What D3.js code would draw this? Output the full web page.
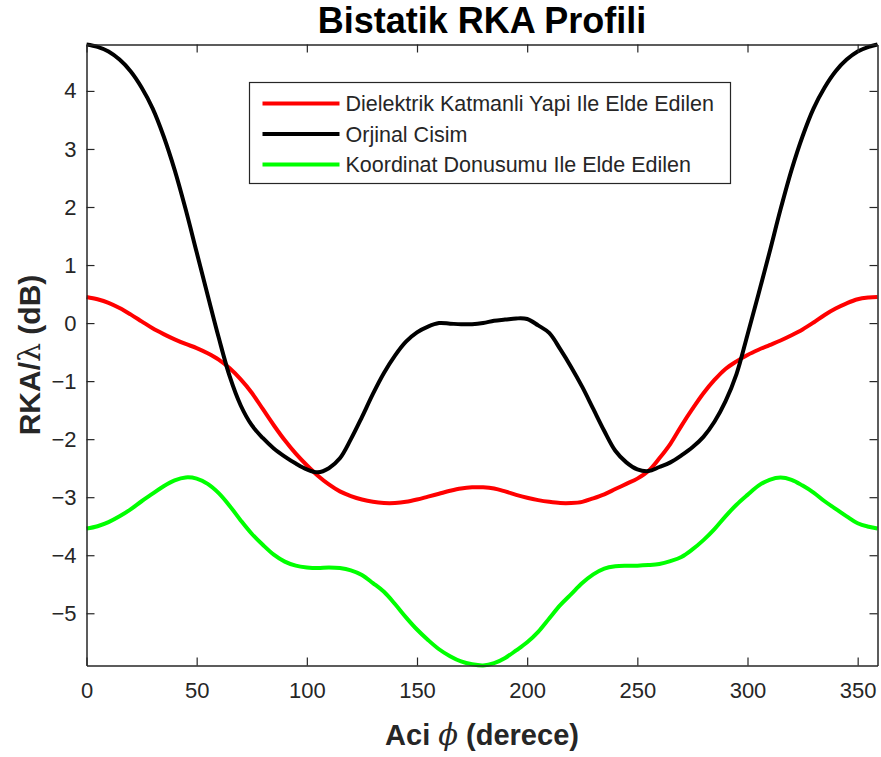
<!DOCTYPE html>
<html>
<head>
<meta charset="utf-8">
<script src="https://cdn.jsdelivr.net/npm/d3@7"></script>
<style>
  body { margin: 0; background: #fff; }
  svg { font-family: "Liberation Sans", Arial, sans-serif; }
</style>
</head>
<body>
<svg width="881" height="757"></svg>
<script>
// angles (derece)
var angles = [0,5,10,15,20,25,30,35,40,45,50,55,60,65,70,75,80,85,90,95,100,105,110,115,120,125,130,135,140,145,150,155,160,165,170,175,
  180,185,190,195,200,205,210,215,220,225,230,235,240,245,250,255,260,265,270,275,280,285,290,295,300,305,310,315,320,325,330,335,340,345,350,355,359];

var dielektrik = [0.45,0.41,0.35,0.26,0.15,0.03,-0.09,-0.19,-0.28,-0.36,-0.43,-0.52,-0.63,-0.78,-0.97,-1.20,-1.48,-1.76,-2.02,-2.25,-2.45,-2.63,-2.78,-2.90,-2.98,-3.04,-3.08,-3.10,-3.10,-3.08,-3.04,-2.99,-2.94,-2.89,-2.85,-2.83,
  -2.83,-2.85,-2.90,-2.96,-3.01,-3.05,-3.08,-3.10,-3.10,-3.08,-3.02,-2.95,-2.86,-2.77,-2.68,-2.55,-2.33,-2.08,-1.77,-1.48,-1.21,-0.98,-0.79,-0.66,-0.55,-0.46,-0.38,-0.30,-0.21,-0.11,0.01,0.14,0.25,0.34,0.41,0.44,0.45];

var orjinal = [4.80,4.76,4.68,4.54,4.34,4.06,3.70,3.22,2.64,1.96,1.22,0.48,-0.25,-0.92,-1.42,-1.76,-1.98,-2.16,-2.30,-2.42,-2.52,-2.57,-2.50,-2.33,-2.00,-1.62,-1.22,-0.86,-0.56,-0.32,-0.16,-0.06,0.00,-0.01,-0.02,-0.02,
  0.00,0.04,0.06,0.08,0.07,-0.04,-0.17,-0.45,-0.76,-1.10,-1.48,-1.86,-2.20,-2.40,-2.52,-2.55,-2.48,-2.40,-2.28,-2.14,-1.96,-1.70,-1.35,-0.88,-0.20,0.50,1.22,1.96,2.64,3.22,3.70,4.06,4.34,4.54,4.68,4.76,4.80];

var koordinat = [-3.54,-3.50,-3.43,-3.33,-3.21,-3.07,-2.94,-2.81,-2.71,-2.66,-2.68,-2.77,-2.93,-3.15,-3.40,-3.63,-3.82,-3.99,-4.11,-4.18,-4.21,-4.22,-4.21,-4.22,-4.26,-4.34,-4.48,-4.63,-4.84,-5.07,-5.28,-5.46,-5.62,-5.74,-5.83,-5.88,
  -5.90,-5.86,-5.77,-5.64,-5.50,-5.32,-5.09,-4.86,-4.67,-4.48,-4.33,-4.23,-4.19,-4.18,-4.18,-4.17,-4.15,-4.10,-4.03,-3.90,-3.74,-3.55,-3.33,-3.13,-2.96,-2.80,-2.70,-2.66,-2.70,-2.80,-2.92,-3.07,-3.20,-3.33,-3.45,-3.51,-3.54];

var seriesNames = ["Dielektrik Katmanli Yapi Ile Elde Edilen", "Orjinal Cisim", "Koordinat Donusumu Ile Elde Edilen"];
var seriesColors = ["#ff0000", "#000000", "#00ff00"];
var xTicks = [0,50,100,150,200,250,300,350];
var yTicks = [-5,-4,-3,-2,-1,0,1,2,3,4];

var svg = d3.select("svg"),
    margin = {top: 44.5, right: 3.5, bottom: 91.5, left: 86.5},
    width = +svg.attr("width") - margin.left - margin.right,
    height = +svg.attr("height") - margin.top - margin.bottom;

var allSeries = [dielektrik, orjinal, koordinat];
var yMin = d3.min(allSeries, function(s) { return d3.min(s); }),
    yMax = d3.max(allSeries, function(s) { return d3.max(s); });

var x = d3.scaleLinear().domain([0, 359]).range([0, width]),
    y = d3.scaleLinear().domain([yMin, yMax]).range([height, 0]);

var g = svg.append("g")
    .attr("transform", "translate(" + margin.left + "," + margin.top + ")");

var axisColor = "#262626";

// lines
var line = d3.line()
    .x(function(d) { return x(d[0]); })
    .y(function(d) { return y(d[1]); })
    .curve(d3.curveCatmullRom.alpha(0.5));

g.append("defs").append("clipPath").attr("id", "clip")
  .append("rect").attr("x", -3).attr("y", -3).attr("width", width + 6).attr("height", height + 6);

allSeries.forEach(function(s, i) {
  g.append("path")
      .datum(angles.map(function(a, j) { return [a, s[j]]; }))
      .attr("clip-path", "url(#clip)")
      .attr("fill", "none")
      .attr("stroke", seriesColors[i])
      .attr("stroke-width", 4)
      .attr("stroke-linejoin", "round")
      .attr("d", line);
});

// axes (box with inward ticks)
function styleAxis(sel) {
  sel.selectAll("path").attr("stroke", axisColor).attr("stroke-width", 1.5);
  sel.selectAll("line").attr("stroke", axisColor).attr("stroke-width", 1.2);
  sel.selectAll("text").attr("fill", axisColor).style("font-size", "22px");
}

g.append("g")
    .attr("transform", "translate(0," + height + ")")
    .call(d3.axisBottom(x).tickValues(xTicks).tickSizeInner(-8).tickSizeOuter(0).tickPadding(17))
    .call(styleAxis);

g.append("g")
    .call(d3.axisTop(x).tickValues(xTicks).tickSizeInner(-8).tickSizeOuter(0).tickFormat(""))
    .call(styleAxis);

g.append("g")
    .call(d3.axisLeft(y).tickValues(yTicks).tickSizeInner(-8).tickSizeOuter(0).tickPadding(10))
    .call(styleAxis);

g.append("g")
    .attr("transform", "translate(" + width + ",0)")
    .call(d3.axisRight(y).tickValues(yTicks).tickSizeInner(-8).tickSizeOuter(0).tickFormat(""))
    .call(styleAxis);

// legend
var legend = svg.append("g").attr("transform", "translate(249.5,82.5)");
legend.append("rect")
    .attr("width", 481)
    .attr("height", 101)
    .attr("fill", "#fff")
    .attr("stroke", axisColor)
    .attr("stroke-width", 1.2);

seriesNames.forEach(function(name, i) {
  var yy = 21 + i * 30.5;
  legend.append("line")
      .attr("x1", 13).attr("x2", 90)
      .attr("y1", yy).attr("y2", yy)
      .attr("stroke", seriesColors[i])
      .attr("stroke-width", 4);
  legend.append("text")
      .attr("x", 96)
      .attr("y", yy)
      .attr("dy", "0.35em")
      .attr("fill", axisColor)
      .style("font-size", "21.5px")
      .text(name);
});

// title and labels
svg.append("text")
    .attr("x", margin.left + width / 2)
    .attr("y", 33)
    .attr("text-anchor", "middle")
    .attr("fill", "#000")
    .style("font-size", "36px")
    .style("font-weight", "bold")
    .text("Bistatik RKA Profili");

var xl = svg.append("text")
    .attr("x", margin.left + width / 2)
    .attr("y", 745)
    .attr("text-anchor", "middle")
    .attr("fill", axisColor)
    .style("font-size", "29px")
    .style("font-weight", "bold");
xl.append("tspan").text("Aci ");
xl.append("tspan").style("font-family", "'DejaVu Serif', serif").style("font-style", "italic").style("font-weight", "normal").text("\u03d5");
xl.append("tspan").text(" (derece)");

var yl = svg.append("text")
    .attr("transform", "translate(40," + (margin.top + height / 2) + ") rotate(-90)")
    .attr("text-anchor", "middle")
    .attr("fill", axisColor)
    .style("font-size", "30px")
    .style("font-weight", "bold");
yl.append("tspan").text("RKA/");
yl.append("tspan").style("font-family", "'DejaVu Serif', serif").style("font-weight", "normal").text("\u03bb");
yl.append("tspan").text(" (dB)");
</script>
</body>
</html>
